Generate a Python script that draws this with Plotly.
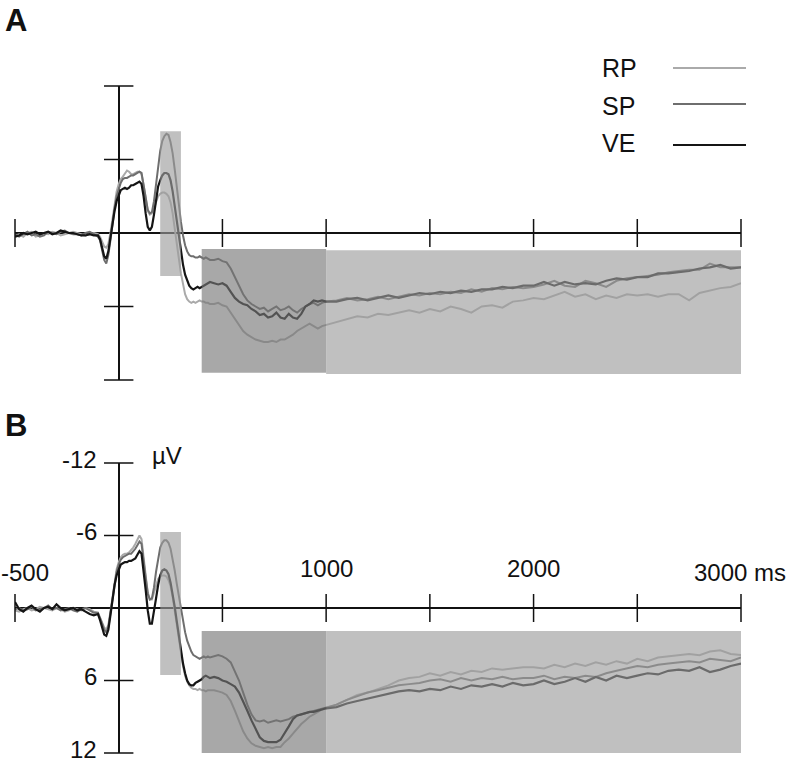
import plotly.graph_objects as go

# ---------------- data ----------------
# time grid (ms)
t = (list(range(-500, -119, 20)) + list(range(-100, 441, 10))
     + list(range(460, 1001, 20)) + list(range(1050, 3001, 50)))

# Panel A (microvolts)
A_RP = ([0.2,0.1,0.3,0.0,-0.1,0.3,0.2,0.0,0.1,-0.1,0.0,0.2,0.1,0.0,-0.1,0.0,0.1,0.2,0.1,0.0]
        + [0.1,0.3,0.7,1.1,1.2,0.9,0.0,-1.2,-2.4,-3.4,
           -4.0,-4.4,-4.6,-4.9,-5.1,-5.0,-4.8,-4.8,-4.9,-5.0,
           -5.0,-4.8,-3.9,-2.7,-1.8,-1.5,-1.6,-2.0,-2.6,-3.0,
           -3.2,-3.3,-3.3,-3.2,-3.0,-2.5,-1.6,-0.5,0.8,2.1,
           3.3,4.3,5.0,5.4,5.6,5.7,5.6,5.7,5.6,5.5,
           5.6,5.6,5.7,5.7,5.8]
        + [5.8,5.7,5.9,6.0,6.5,7.1,7.6,8.0,8.3,8.5,
           8.7,8.8,8.9,8.9,8.8,8.9,8.7,8.7,8.5,8.3,
           8.0,7.8,7.6,7.4,7.6,7.8,7.6,7.5]
        + [7.3,7.0,6.8,6.9,6.6,6.7,6.5,6.3,6.5,6.2,
           6.4,6.0,6.2,6.5,6.0,5.9,6.1,5.6,5.5,5.3,
           5.4,5.1,4.8,5.2,5.0,5.4,5.1,5.3,5.0,5.1,
           5.0,5.2,5.0,5.0,5.5,4.9,4.7,4.5,4.4,4.1])
A_SP = ([0.1,0.3,0.1,-0.1,0.2,0.1,0.3,0.2,-0.1,0.0,0.1,-0.1,-0.2,0.0,0.1,0.1,0.2,0.0,-0.1,0.1]
        + [0.3,0.6,1.3,2.2,2.5,1.8,0.6,-0.8,-2.0,-3.0,
           -3.6,-4.1,-4.4,-4.5,-4.5,-4.6,-4.7,-4.7,-4.8,-4.9,
           -5.0,-4.9,-4.0,-2.8,-1.9,-1.6,-1.7,-2.6,-4.0,-5.5,
           -6.7,-7.5,-7.9,-8.1,-8.0,-7.4,-6.5,-5.2,-3.7,-2.2,
           -0.9,0.2,1.0,1.5,1.8,1.9,1.9,2.0,2.0,1.9,
           2.0,2.1,2.0,2.1,2.2]
        + [2.2,2.1,2.3,2.4,2.9,3.6,4.4,5.0,5.5,5.8,
           6.0,6.2,6.1,6.4,6.2,6.0,6.3,6.2,6.0,6.3,
           6.5,6.2,6.0,5.8,5.7,5.9,5.7,5.6]
        + [5.5,5.3,5.5,5.4,5.2,5.4,5.2,5.0,5.1,4.9,
           5.0,4.8,4.9,4.6,4.8,4.5,4.6,4.4,4.5,4.4,
           4.2,3.9,4.3,4.4,3.9,4.1,4.4,3.9,3.7,3.6,
           3.5,3.4,3.2,3.1,3.0,3.0,2.5,2.8,2.8,2.8])
A_VE = ([0.3,0.2,0.0,0.1,0.0,-0.1,0.1,0.0,-0.1,0.1,0.0,-0.2,-0.1,0.0,0.0,0.1,0.2,0.2,0.1,0.2]
        + [0.2,0.5,1.1,1.9,2.1,1.5,0.4,-0.8,-1.8,-2.6,
           -3.1,-3.5,-3.6,-3.7,-3.6,-3.7,-3.9,-3.9,-4.0,-4.1,
           -4.2,-4.0,-3.0,-1.6,-0.5,-0.2,-0.5,-1.5,-2.7,-3.8,
           -4.3,-4.7,-4.9,-4.9,-4.8,-4.3,-3.4,-2.2,-0.9,0.4,
           1.6,2.6,3.4,3.9,4.3,4.5,4.6,4.5,4.4,4.5,
           4.4,4.3,4.2,4.1,4.0]
        + [4.1,4.2,4.1,4.3,4.8,5.3,5.6,5.8,5.9,6.2,
           6.4,6.7,6.6,6.9,6.8,6.5,6.9,7.0,6.6,6.9,
           7.0,6.6,6.0,5.8,5.5,5.6,5.5,5.6]
        + [5.6,5.4,5.3,5.5,5.3,5.1,5.3,5.1,4.9,5.0,
           4.8,4.9,4.7,4.8,4.6,4.6,4.4,4.5,4.3,4.3,
           4.0,4.3,4.0,4.2,4.1,4.2,3.9,3.7,3.8,3.6,
           3.6,3.3,3.3,3.2,3.1,2.9,2.8,2.6,2.9,2.8])

# Panel B (microvolts)
B_RP = ([0.2,0.3,0.1,0.0,0.2,0.1,-0.1,0.0,0.1,0.2,0.0,0.1,0.3,0.2,0.0,0.1,0.2,0.0,0.1,0.3]
        + [0.4,0.8,1.2,1.6,1.8,1.4,0.3,-1.0,-2.2,-3.2,
           -3.8,-4.2,-4.4,-4.5,-4.5,-4.6,-4.8,-5.0,-5.3,-5.7,
           -6.0,-5.7,-4.4,-2.7,-1.3,-0.7,-0.7,-1.3,-2.0,-2.4,
           -2.6,-2.7,-2.7,-2.6,-2.3,-1.8,-0.9,0.2,1.4,2.6,
           3.8,4.8,5.6,6.1,6.4,6.6,6.7,6.7,6.8,6.7,
           6.8,6.8,6.9,6.8,6.8]
        + [6.8,6.9,7.0,7.2,7.7,8.5,9.4,10.2,10.8,11.2,
           11.4,11.5,11.6,11.5,11.6,11.5,11.5,11.1,10.8,10.4,
           10.0,9.6,9.3,9.0,8.8,8.6,8.4,8.3]
        + [8.0,7.6,7.2,7.0,6.7,6.4,6.0,5.8,5.7,5.4,
           5.6,5.3,5.5,5.2,5.3,5.0,5.1,5.0,4.9,4.9,
           5.0,4.7,4.9,4.6,4.8,4.5,4.7,4.4,4.6,4.2,
           4.4,4.1,4.0,3.9,3.8,3.9,3.6,3.5,3.8,3.9])
B_SP = ([0.1,0.0,0.2,0.1,-0.1,0.2,0.1,0.0,-0.2,0.1,0.0,0.2,0.1,0.0,0.2,0.3,0.1,0.0,0.2,0.4]
        + [0.4,0.8,1.3,1.8,2.0,1.6,0.5,-0.8,-2.0,-3.0,
           -3.6,-4.0,-4.2,-4.3,-4.4,-4.5,-4.5,-4.7,-4.9,-5.2,
           -5.5,-5.3,-4.1,-2.5,-1.2,-0.7,-0.8,-1.7,-3.0,-4.2,
           -5.0,-5.4,-5.6,-5.6,-5.4,-4.9,-4.1,-3.1,-2.0,-0.9,
           0.2,1.2,2.0,2.7,3.2,3.6,3.9,4.0,4.1,4.2,
           4.1,4.0,4.1,4.0,4.1]
        + [4.0,3.9,4.0,4.2,4.5,5.2,6.0,7.0,8.0,8.8,
           9.3,9.4,9.3,9.5,9.4,9.3,9.4,9.3,9.2,9.0,
           8.9,8.8,8.7,8.6,8.5,8.4,8.3,8.2]
        + [8.0,7.6,7.3,7.0,6.8,6.6,6.4,6.3,6.2,6.0,
           5.9,6.1,5.8,6.0,5.8,5.9,5.7,5.9,5.8,5.8,
           5.6,5.9,5.7,5.8,5.6,5.7,5.4,5.2,5.0,4.8,
           4.9,4.7,4.6,4.5,4.4,4.5,4.2,4.3,4.4,4.1])
B_VE = ([-0.5,0.1,0.3,0.0,-0.2,0.1,0.3,0.0,-0.1,0.1,-0.3,0.0,0.2,0.1,0.0,0.2,0.1,0.3,0.5,0.6]
        + [0.5,1.0,1.7,2.2,2.3,1.8,0.6,-0.8,-1.9,-2.7,
           -3.2,-3.6,-3.7,-3.8,-3.8,-3.9,-3.9,-4.0,-4.1,-4.4,
           -4.7,-4.5,-3.2,-1.5,0.2,1.3,1.3,0.4,-0.8,-1.9,
           -2.7,-3.1,-3.2,-3.1,-2.8,-2.1,-1.2,-0.1,1.1,2.3,
           3.5,4.6,5.4,6.0,6.3,6.4,6.4,6.2,6.1,6.0,
           5.9,5.7,5.6,5.7,5.8]
        + [5.7,5.8,6.0,6.1,6.3,6.5,7.0,7.7,8.5,9.3,
           10.0,10.7,11.0,11.1,11.1,11.1,10.9,10.4,9.8,9.2,
           8.9,8.8,8.7,8.6,8.6,8.5,8.4,8.3]
        + [8.2,7.9,7.7,7.5,7.3,7.1,6.9,6.8,6.9,6.7,
           6.8,6.5,6.7,6.4,6.5,6.3,6.5,6.2,6.4,6.3,
           6.0,6.3,6.1,5.8,6.1,5.7,6.0,5.6,5.8,5.6,
           5.4,5.5,5.2,5.1,5.2,4.9,5.3,5.1,4.8,4.6])

conditions = ["RP", "SP", "VE"]
x_ticks = [-500, 500, 1000, 1500, 2000, 2500, 3000]
y_ticks = [-12, -6, 6, 12]
y_tick_labels = ["-12", "-6", "6", "12"]
x_tick_labels = {-500: "-500", 1000: "1000", 2000: "2000", 3000: "3000 ms"}

# analysis windows: (t0, t1, v0, v1) per panel
bar_A = (200, 300, -8.3, 3.5)
bar_B = (200, 300, -6.3, 5.55)
early_win_A = (400, 1000, 1.3, 11.4)
late_win_A = (1000, 3000, 1.4, 11.5)
early_win_B = (400, 1000, 1.9, 12.0)
late_win_B = (1000, 3000, 1.9, 12.0)

# ---------------- styling ----------------
W, H = 786, 766
def px(x):
    return x / W
def py(y):
    return 1 - y / H

colors = {"RP": "#aaaaaa", "SP": "#6e6e6e", "VE": "#151515"}
widths = {"RP": 2, "SP": 2, "VE": 2.2}
FONT = "Liberation Sans, Arial, sans-serif"

fig = go.Figure()
panels = [("x", "y", {"RP": A_RP, "SP": A_SP, "VE": A_VE}),
          ("x2", "y2", {"RP": B_RP, "SP": B_SP, "VE": B_VE})]
for xa, ya, series in panels:
    for c in conditions:
        fig.add_trace(go.Scatter(x=t, y=series[c], mode="lines", xaxis=xa, yaxis=ya,
                                 line=dict(color=colors[c], width=widths[c]),
                                 showlegend=False, hoverinfo="skip"))
    fig.add_trace(go.Scatter(x=x_ticks, y=[0] * len(x_ticks), mode="markers",
                             xaxis=xa, yaxis=ya, cliponaxis=False,
                             marker=dict(symbol="line-ns", size=20,
                                         line=dict(color="#111111", width=1.5)),
                             showlegend=False, hoverinfo="skip"))
    fig.add_trace(go.Scatter(x=[0] * len(y_ticks), y=y_ticks, mode="markers",
                             xaxis=xa, yaxis=ya, cliponaxis=False,
                             marker=dict(symbol="line-ew", size=21,
                                         line=dict(color="#111111", width=1.5)),
                             showlegend=False, hoverinfo="skip"))

# shaded windows drawn semi-transparent over the traces
def add_window(win, xa, ya, rgb):
    fig.add_shape(type="rect", xref=xa, yref=ya, x0=win[0], x1=win[1], y0=win[2], y1=win[3],
                  fillcolor=rgb, opacity=0.64, line=dict(width=0), layer="above")

add_window(bar_A, "x", "y", "rgb(157,157,157)")
add_window(early_win_A, "x", "y", "rgb(119,119,119)")
add_window(late_win_A, "x", "y", "rgb(157,157,157)")
add_window(bar_B, "x2", "y2", "rgb(157,157,157)")
add_window(early_win_B, "x2", "y2", "rgb(119,119,119)")
add_window(late_win_B, "x2", "y2", "rgb(157,157,157)")

axis_common = dict(showgrid=False, showline=False, showticklabels=False, ticks="",
                   zeroline=True, zerolinecolor="#111111", zerolinewidth=1.5, fixedrange=True)
fig.update_layout(
    width=W, height=H, autosize=False,
    margin=dict(l=0, r=0, t=0, b=0),
    paper_bgcolor="white", plot_bgcolor="white",
    font=dict(family=FONT, size=24, color="#111111"),
    xaxis=dict(domain=[px(15), px(741)], range=[-500, 3000], anchor="y", **axis_common),
    yaxis=dict(domain=[py(380), py(86)], range=[12, -12], anchor="x", **axis_common),
    xaxis2=dict(domain=[px(15), px(741)], range=[-500, 3000], anchor="y2", **axis_common),
    yaxis2=dict(domain=[py(753), py(463)], range=[12, -12], anchor="x2", **axis_common),
)

ann = []
# panel letters
ann.append(dict(text="<b>A</b>", x=px(3), y=py(21), xref="paper", yref="paper",
                xanchor="left", yanchor="middle", showarrow=False, font=dict(size=31)))
ann.append(dict(text="<b>B</b>", x=px(3), y=py(425), xref="paper", yref="paper",
                xanchor="left", yanchor="middle", showarrow=False, font=dict(size=31)))
# y tick labels (panel B)
for v, lab in zip(y_ticks, y_tick_labels):
    ann.append(dict(text=lab, x=0, y=v, xref="x2", yref="y2", xanchor="right",
                    yanchor="middle", xshift=-20, yshift=4, showarrow=False))
ann.append(dict(text="µV", x=px(150), y=py(455), xref="paper", yref="paper",
                xanchor="left", yanchor="middle", showarrow=False))
# x tick labels (panel B)
for v, lab in x_tick_labels.items():
    if v == -500:
        ann.append(dict(text=lab, x=v, y=0, xref="x2", yref="y2", xanchor="left",
                        yanchor="middle", xshift=-16, yshift=36, showarrow=False))
    elif v == 3000:
        ann.append(dict(text=lab, x=v, y=0, xref="x2", yref="y2", xanchor="left",
                        yanchor="middle", xshift=-49, yshift=36, showarrow=False))
    else:
        ann.append(dict(text=lab, x=v, y=0, xref="x2", yref="y2", xanchor="center",
                        yanchor="middle", yshift=40, showarrow=False))
# legend
leg_y = {"RP": (68, 68), "SP": (106, 104), "VE": (143, 145)}
for c in conditions:
    ty, ly = leg_y[c]
    ann.append(dict(text=c, x=px(600), y=py(ty), xref="paper", yref="paper",
                    xanchor="left", yanchor="middle", showarrow=False, font=dict(size=25)))
    fig.add_shape(type="line", xref="paper", yref="paper", x0=px(673), x1=px(746),
                  y0=py(ly), y1=py(ly), line=dict(color=colors[c], width=widths[c]))
fig.update_layout(annotations=ann)

fig.write_html("out.html", config={"displayModeBar": False},
               post_script="document.body.style.margin='0';document.body.style.overflow='hidden';")
